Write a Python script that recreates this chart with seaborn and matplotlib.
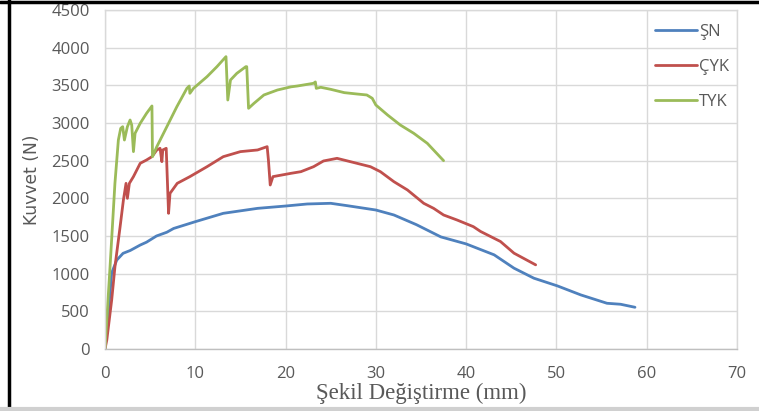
import pandas as pd
import numpy as np
import seaborn as sns
import matplotlib.pyplot as plt
from matplotlib.lines import Line2D

# ŞN
sn_x = [0, 0.4, 0.74, 1.3, 2.0, 2.8, 3.9, 4.6, 5.7, 6.85, 7.6, 10, 13.1, 16.9, 20, 22.4, 25, 26.8,
        30, 32, 34.5, 37.2, 40, 43.1, 45.3, 47.5, 50.1, 52.7, 55.6, 57.1, 58.7]
sn_y = [0, 520, 1010, 1180, 1270, 1308, 1380, 1418, 1500, 1550, 1600, 1690, 1801, 1867, 1898, 1925, 1934, 1903,
        1845, 1779, 1650, 1488, 1395, 1250, 1073, 940, 838, 718, 607, 594, 554]

# ÇYK
cyk_x = [0, 0.2, 0.74, 1.1, 1.67, 2.04, 2.33, 2.48, 2.7, 3.15, 3.9, 4.6, 5.2, 5.74, 6.1, 6.3, 6.4,
         6.78, 7.04, 7.2, 8.0, 9.4, 11.3, 13.1, 15.0, 16.9, 17.96, 18.1, 18.3, 18.6, 20.6, 21.7,
         23.1, 24.2, 25.7, 27.6, 29.4, 30.5, 32, 33.5, 35.3, 36.4, 37.5, 39.0, 40.8, 41.6, 43.8,
         45.3, 47.7]
cyk_y = [0, 120, 650, 1090, 1620, 1978, 2199, 2000, 2199, 2288, 2465, 2509, 2553, 2642, 2664, 2487, 2642,
         2664, 1801, 2066, 2199, 2288, 2420, 2553, 2620, 2642, 2686, 2509, 2177, 2288, 2332, 2354,
         2420, 2496, 2531, 2474, 2420, 2354, 2221, 2111, 1934, 1867, 1779, 1712, 1624, 1560, 1427,
         1272, 1117]

# TYK
tyk_x = [0, 0.56, 1.1, 1.48, 1.74, 1.96, 2.15, 2.48, 2.78, 2.96, 3.15, 3.33, 3.9, 4.6, 5.2, 5.26,
         5.74, 6.85, 7.96, 9.07, 9.33, 9.4, 9.8, 11.3, 12.4, 13.4, 13.6, 13.9, 14.6, 15.6, 15.7,
         15.9, 16.5, 17.6, 19.1, 20.6, 21.3, 23.1, 23.3, 23.4, 23.9, 25.0, 26.5, 27.9, 29.0, 29.6,
         30.0, 31.3, 32.7, 34.2, 35.7, 37.5]
tyk_y = [0, 1093, 2199, 2774, 2929, 2951, 2774, 2951, 3040, 2973, 2620, 2863, 2996, 3128, 3226, 2553,
         2686, 2951, 3217, 3460, 3491, 3394, 3460, 3615, 3748, 3881, 3305, 3571, 3659, 3748, 3748,
         3195, 3261, 3372, 3438, 3480, 3491, 3527, 3545, 3460, 3474, 3447, 3403, 3385, 3372, 3328,
         3239, 3106, 2974, 2863, 2730, 2500]

series = ['ŞN', 'ÇYK', 'TYK']
colors = ['#4F81BD', '#C0504D', '#9BBB59']

df = pd.concat([
    pd.DataFrame({'x': sn_x, 'y': sn_y, 'seri': 'ŞN'}),
    pd.DataFrame({'x': cyk_x, 'y': cyk_y, 'seri': 'ÇYK'}),
    pd.DataFrame({'x': tyk_x, 'y': tyk_y, 'seri': 'TYK'}),
], ignore_index=True)

sns.set_style('white')
plt.rcParams['font.family'] = ['Open Sans', 'DejaVu Sans']
grey = '#595959'

fig = plt.figure(figsize=(7.59, 4.11), dpi=100)
ax = fig.add_axes([105/759, 62/411, 632/759, 339/411])

sns.lineplot(data=df, x='x', y='y', hue='seri', hue_order=series, palette=colors,
             estimator=None, sort=False, linewidth=2.0, ax=ax)

ax.set_xlim(0, 70)
ax.set_ylim(0, 4500)
ax.set_xticks(np.arange(0, 71, 10))
ax.set_yticks(np.arange(0, 4501, 500))
ax.grid(True, color='#D9D9D9', linewidth=1)
ax.set_axisbelow(True)
for s in ax.spines.values():
    s.set_color('#D9D9D9')
    s.set_linewidth(1)
ax.spines['bottom'].set_color('#BFBFBF')
ax.tick_params(axis='both', length=0, labelsize=12, labelcolor=grey)
ax.tick_params(axis='x', pad=12)
ax.tick_params(axis='y', pad=11)

ax.set_xlabel('Şekil Değiştirme (mm)', family='Liberation Serif', fontsize=16.5, color=grey)
ax.xaxis.label.set_va('baseline')
ax.xaxis.set_label_coords(0.5, -0.147)
ax.set_ylabel('Kuvvet (N)', family='DejaVu Sans', fontsize=12.3, color=grey)
ax.yaxis.set_label_coords(-0.101, 0.5)

leg = ax.legend(loc='upper left', bbox_to_anchor=(0.857, 0.984), frameon=False, fontsize=12,
                labelcolor=grey, handlelength=2.5, handletextpad=0.15, labelspacing=1.15, borderpad=0)

# outer frame like the original screenshot
fig.add_artist(Line2D([0, 1], [0.996, 0.996], transform=fig.transFigure, color='black', linewidth=2.5))
fig.add_artist(Line2D([0.0125, 0.0125], [0.01, 1], transform=fig.transFigure, color='black', linewidth=2.5))
fig.add_artist(Line2D([0, 1], [0.005, 0.005], transform=fig.transFigure, color='#D0D0D0', linewidth=3))

fig.savefig('out.png', dpi=100)
